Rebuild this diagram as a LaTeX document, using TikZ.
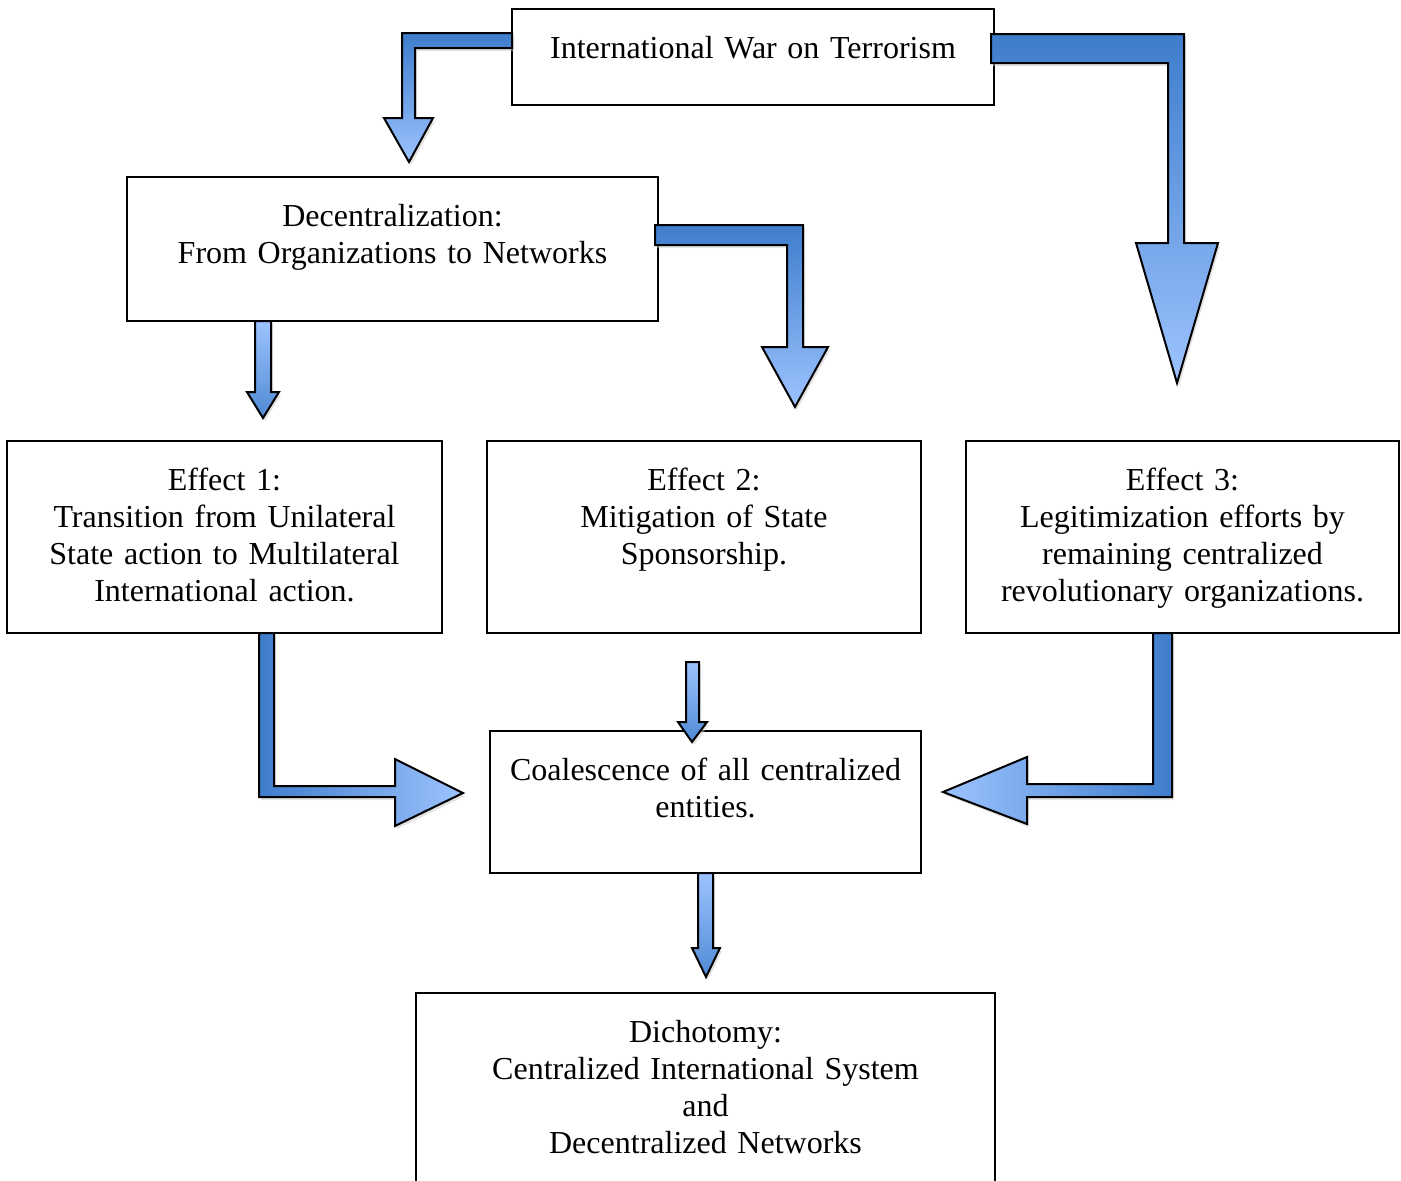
\documentclass[tikz,border=0pt]{standalone}
\usepackage{fontspec}
\setmainfont{Liberation Serif}
\usetikzlibrary{shadows}

\definecolor{arrowdark}{HTML}{3E7DCC}
\definecolor{arrowlight}{HTML}{9DC3FF}
\definecolor{arrowmid}{HTML}{4F8AD4}

\begin{document}
\begin{tikzpicture}[x=1pt,y=-1pt]
\useasboundingbox (0,0) rectangle (1401,1181);
\def \toptext {49pt}
   \tikzset{BoxStyle/.style = {draw, line width=1.5pt, inner sep=0pt, align=center,
      font=\fontsize{32}{37}\selectfont, text height=\toptext}}
   \tikzset{ArrowStyle/.style = {draw, line width=2pt, line join=miter,
      drop shadow={shadow xshift=2pt, shadow yshift=-3pt, fill=black!22}}}
   \tikzset{BentDown/.style = {ArrowStyle, top color=arrowdark, bottom color=arrowlight}}
   \tikzset{SmallDown/.style = {ArrowStyle, top color=arrowlight, bottom color=arrowmid}}

   \node[BoxStyle, text width=482pt, text depth=47pt] (war) at (753,57)
      {International War on Terrorism};
   \node[BoxStyle, text width=531pt, text depth=95pt] (decent) at (392.5,249)
      {Decentralization:\\From Organizations to Networks};
   \node[BoxStyle, text width=435pt, text depth=143pt] (eff1) at (224.5,537)
      {Effect 1:\\Transition from Unilateral\\State action to Multilateral\\International action.};
   \node[BoxStyle, text width=434pt, text depth=143pt] (eff2) at (704,537)
      {Effect 2:\\Mitigation of State\\Sponsorship.};
   \node[BoxStyle, text width=433pt, text depth=143pt] (eff3) at (1182.5,537)
      {Effect 3:\\Legitimization efforts by\\remaining centralized\\revolutionary organizations.};
   \node[BoxStyle, text width=431pt, text depth=93pt] (coal) at (705.5,802)
      {Coalescence of all centralized\\entities.};
   \node[BoxStyle, text width=579pt, text depth=151pt] (dich) at (705.5,1093)
      {Dichotomy:\\Centralized International System\\and\\Decentralized Networks};

% bent arrows
   \path[BentDown] (512,33) -- (402,33) -- (402,118) -- (384,118) -- (409,162)
      -- (433,118) -- (415,118) -- (415,48) -- (512,48) -- cycle;
   \path[BentDown] (991,34) -- (1184,34) -- (1184,243) -- (1218,243) -- (1177,383)
      -- (1136,243) -- (1168,243) -- (1168,63) -- (991,63) -- cycle;
   \path[BentDown] (655,225) -- (803,225) -- (803,347) -- (828,347) -- (795,407)
      -- (762,347) -- (787,347) -- (787,245) -- (655,245) -- cycle;
   \path[ArrowStyle, left color=arrowdark, right color=arrowlight]
      (259,633) -- (259,797) -- (395,797) -- (395,826) -- (463,793)
      -- (395,759) -- (395,786) -- (274,786) -- (274,633) -- cycle;
   \path[ArrowStyle, left color=arrowlight, right color=arrowdark]
      (1172,633) -- (1172,797) -- (1027,797) -- (1027,824) -- (943,792)
      -- (1027,757) -- (1027,784) -- (1153,784) -- (1153,633) -- cycle;
% straight arrows
   \path[SmallDown] (255,321) -- (255,392) -- (247,392) -- (263,418) -- (279,392)
      -- (271,392) -- (271,321) -- cycle;
   \path[SmallDown] (686,662) -- (686,722) -- (678,722) -- (692,742) -- (707,722)
      -- (699,722) -- (699,662) -- cycle;
   \path[SmallDown] (698,873) -- (698,948) -- (692,948) -- (706,977) -- (720,948)
      -- (713,948) -- (713,873) -- cycle;
\end{tikzpicture}
\end{document}
